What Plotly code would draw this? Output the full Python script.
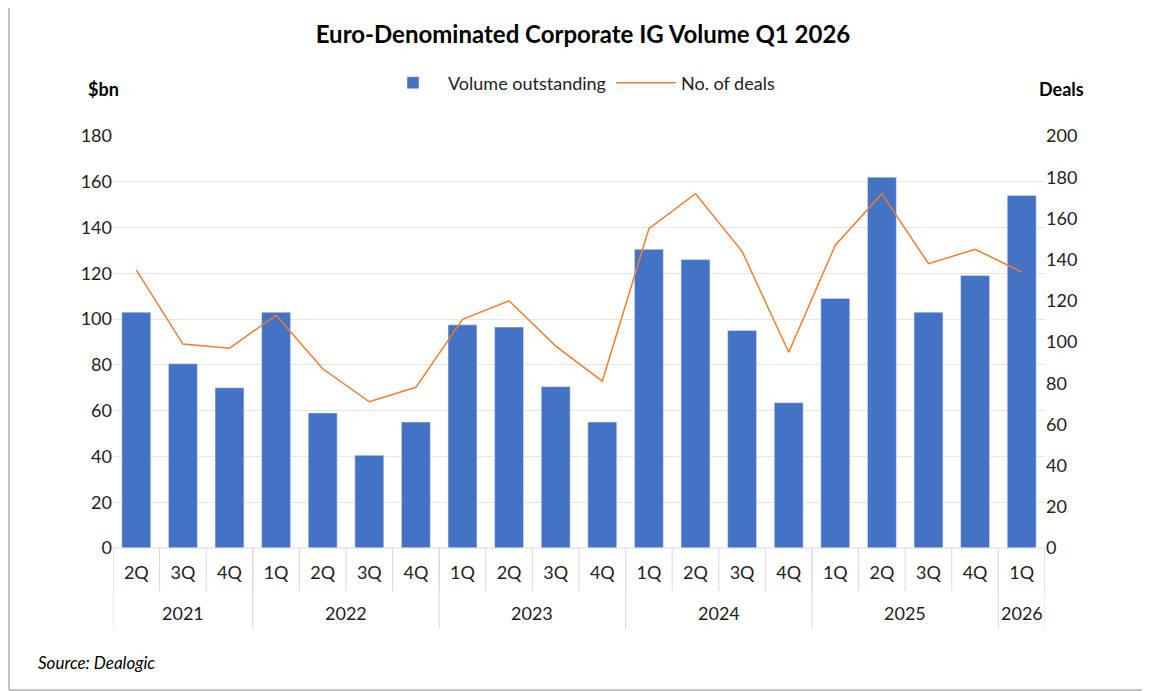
import plotly.graph_objects as go

year_labels = ["2021", "2022", "2023", "2024", "2025", "2026"]
year_counts = [3, 4, 4, 4, 4, 1]
quarters = ["2Q","3Q","4Q","1Q","2Q","3Q","4Q","1Q","2Q","3Q","4Q","1Q","2Q","3Q","4Q","1Q","2Q","3Q","4Q","1Q"]
volume = [103, 80.5, 70, 103, 59, 40.5, 55, 97.5, 96.5, 70.5, 55, 130.5, 126, 95, 63.5, 109, 162, 103, 119, 154]
deals = [135, 99, 97, 113, 87, 71, 78, 111, 120, 98, 81, 155, 172, 144, 95, 147, 172, 138, 145, 134]

F = "Lato"
L, R, T, B = 105, 1037, 135, 547
W, H = R - L, B - T
def px(p): return (B - p) / H
def pxx(p): return (p - L) / W

n = len(quarters)
xs = list(range(n))
fig = go.Figure()
fig.add_trace(go.Bar(x=xs, y=volume, name="Volume outstanding", marker_color="#4472C4", width=0.62))
fig.add_trace(go.Scatter(x=xs, y=deals, name="No. of deals", yaxis="y2", mode="lines",
                         line=dict(color="#ED7D31", width=1.5)))

shapes = [dict(type="rect", xref="paper", yref="paper", x0=pxx(1), x1=pxx(1148), y0=px(689), y1=px(1),
               line=dict(color="#888", width=1))]
ann = []
for i in range(n + 1):
    shapes.append(dict(type="line", xref="x", yref="paper", x0=i - 0.5, x1=i - 0.5, y0=0, y1=px(590),
                       line=dict(color="#d9d9d9", width=1)))
start = 0
for lab, c in zip(year_labels, year_counts):
    shapes.append(dict(type="line", xref="x", yref="paper", x0=start - 0.5, x1=start - 0.5, y0=0, y1=px(628),
                       line=dict(color="#d9d9d9", width=1)))
    ann.append(dict(text=lab, x=start + (c - 1) / 2, xref="x", yref="paper", y=px(612), yanchor="middle",
                    showarrow=False, font=dict(size=18, color="#222")))
    start += c
shapes.append(dict(type="line", xref="x", yref="paper", x0=n - 0.5, x1=n - 0.5, y0=0, y1=px(628),
                   line=dict(color="#d9d9d9", width=1)))
shapes.append(dict(type="line", xref="paper", yref="paper", x0=0, x1=1, y0=0, y1=0,
                   line=dict(color="#d9d9d9", width=1)))

ann += [
    dict(text="<b>$bn</b>", xref="paper", yref="paper", x=pxx(78), y=px(88), yanchor="middle",
         showarrow=False, font=dict(size=18, color="black")),
    dict(text="<b>Deals</b>", xref="paper", yref="paper", x=pxx(1078), y=px(88), yanchor="middle",
         showarrow=False, font=dict(size=18, color="black")),
    dict(text="<i>Source: Dealogic</i>", xref="paper", yref="paper", x=pxx(28), y=px(661), yanchor="middle",
         xanchor="left", showarrow=False, font=dict(size=17, color="black")),
]

fig.update_layout(
    width=1150, height=691, paper_bgcolor="white", plot_bgcolor="white",
    font=dict(family=F, size=18, color="#222"),
    margin=dict(l=L, r=1150 - R, t=T - 7, b=691 - B + 7),
    title=dict(text="<b>Euro-Denominated Corporate IG Volume Q1 2026</b>", x=0.5, y=1 - 27 / 698,
               xanchor="center", yanchor="middle", font=dict(size=24, color="black")),
    legend=dict(orientation="h", x=0.5, xanchor="center", y=px(82), yanchor="middle",
                font=dict(size=18), itemwidth=60, traceorder="normal"),
    xaxis=dict(range=[-0.5, n - 0.5], tickvals=xs, ticktext=quarters, showgrid=False, zeroline=False,
               ticks="outside", ticklen=8, tickcolor="rgba(0,0,0,0)", tickfont=dict(size=18)),
    yaxis=dict(range=[0, 180], dtick=20, gridcolor="#e6e6e6", zeroline=False, tickfont=dict(size=18)),
    yaxis2=dict(range=[0, 200], dtick=20, overlaying="y", side="right", showgrid=False,
                zeroline=False, tickfont=dict(size=18)),
    shapes=shapes, annotations=ann,
)
fig.write_html("out.html")
